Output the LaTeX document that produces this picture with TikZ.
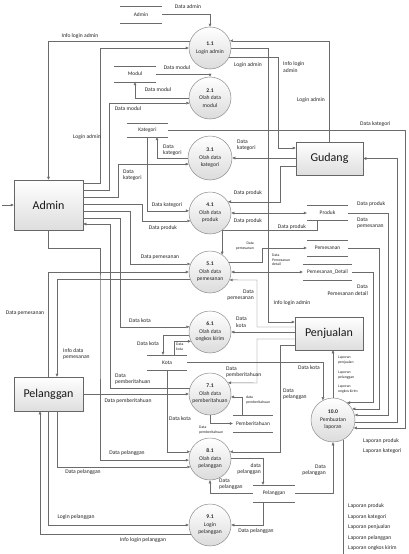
\documentclass[tikz,border=0pt]{standalone}
\usepackage{fontspec}
\setmainfont{Carlito}
\usetikzlibrary{arrows.meta,shadows}
\begin{document}
\begin{tikzpicture}[x=1pt,y=-1pt,
  flow/.style={draw=black!58,line width=0.45pt},
  arr/.style={flow,-{Triangle[length=3pt,width=2.6pt]}},
  barr/.style={flow,{Triangle[length=3pt,width=2.6pt]}-{Triangle[length=3pt,width=2.6pt]}},
  proc/.style={circle,draw=black!45,line width=0.5pt,top color=white,bottom color=black!14,
    inner sep=0pt,minimum size=42pt,align=center,text=black!85,font=\fontsize{5.6}{7.5}\selectfont},
  ent/.style={rectangle,draw=black!60,line width=0.5pt,top color=white,bottom color=black!13,
    inner sep=0pt,text=black!90,font=\fontsize{12}{14}\selectfont,
    drop shadow={shadow xshift=1.2pt,shadow yshift=-1.2pt,opacity=0.35,fill=black!60}},
  storeline/.style={draw=black!58,line width=0.45pt},
  store/.style={rectangle,inner sep=0pt,text=black!85,font=\fontsize{5.4}{6}\selectfont,
    append after command={(\tikzlastnode.north west) edge[storeline] (\tikzlastnode.north east)
      (\tikzlastnode.south west) edge[storeline] (\tikzlastnode.south east)}},
  lab/.style={inner sep=0pt,text=black!85,font=\fontsize{5.6}{6.6}\selectfont,align=center},
  slab/.style={inner sep=0pt,text=black!85,font=\fontsize{3.8}{4.6}\selectfont,align=center},
]
\fill[white] (0,0) rectangle (408,554);
\useasboundingbox (0,0) rectangle (408,554);

% processes
\node[proc] (p1) at (210,48) {\textbf{1.1}\\Login admin};
\node[proc] (p2) at (210,98) {\textbf{2.1}\\Olah data\\modul};
\node[proc,minimum size=44pt] (p3) at (210,158) {\textbf{3.1}\\Olah data\\kategori};
\node[proc] (p4) at (210,213) {\textbf{4.1}\\Olah data\\produk};
\node[proc] (p5) at (210,272) {\textbf{5.1}\\Olah data\\pemesanan};
\node[proc] (p6) at (210,332) {\textbf{6.1}\\Olah data\\ongkos kirim};
\node[proc] (p7) at (210,394) {\textbf{7.1}\\Olah data\\pemberitahuan};
\node[proc] (p8) at (210,459) {\textbf{8.1}\\Olah data\\pelanggan};
\node[proc] (p9) at (210,525) {\textbf{9.1}\\Login\\pelanggan};
\node[proc,minimum size=44pt] (p10) at (333,420) {\textbf{10.0}\\Pembuatan\\laporan};

% entities
\node[ent,minimum width=69pt,minimum height=50pt] (admin) at (48.5,205) {Admin};
\node[ent,minimum width=69pt,minimum height=34pt] (pel) at (48.5,394) {Pelanggan};
\node[ent,minimum width=67pt,minimum height=33pt] (gud) at (329.5,158.5) {Gudang};
\node[ent,minimum width=68pt,minimum height=33pt] (pen) at (329,333.5) {Penjualan};

% data stores
\node[store,minimum width=42pt,minimum height=17pt] (sadm) at (141,14.5) {Admin};
\node[store,minimum width=42pt,minimum height=16pt] (smod) at (135,74) {Modul};
\node[store,minimum width=41pt,minimum height=14pt] (skat) at (147.5,130) {Kategori};
\node[store,minimum width=41pt,minimum height=15pt] (sprod) at (327.5,213) {Produk};
\node[store,minimum width=41pt,minimum height=16pt] (spem) at (327.5,248) {Pemesanan};
\node[store,minimum width=49pt,minimum height=16pt] (sdet) at (327.5,272) {Pemesanan\_Detail};
\node[store,minimum width=40pt,minimum height=15pt] (skota) at (167,362.5) {Kota};
\node[store,minimum width=40pt,minimum height=17pt] (spb) at (253,423.5) {Pemberitahuan};
\node[store,minimum width=42pt,minimum height=17pt] (spl) at (274,493.5) {Pelanggan};

% flows: top
\draw[arr] (sadm.east) -| (p1.north);
\draw[arr] (p1.160) -| (admin.north);
\draw[arr] (admin.east |- 0,183) -| (100,48) -- (p1.west);
\draw[arr] (smod.east) -| (p2.north);
\draw[arr] (p2.west) -| (smod.south);
\draw[arr] (admin.east |- 0,190) -- (109,190) |- (p2.194);
\draw[arr] (skat.east) -| (p10.-21 -| 405,0) -- (p10.-21);
\draw[arr] (p3.west) -| (skat.south -| 157,0);
\draw[arr] (admin.east |- 0,197) -- (118,197) |- (p3.196);
\draw[arr] (skat.south) |- (p4.174);
\draw[arr] (admin.east |- 0,204) -- (142,204) |- (p4.202);
\draw[arr] (admin.east |- 0,211) -- (130,211) |- (p5.158);
\draw[arr] (admin.east |- 0,218) -- (120,218) |- (p6.166);
\draw[arr] (p7.164) -| (110,224) -- (admin.east |- 0,224);
\draw[arr] (admin.south) -- (48.5,248) -| (100,300) |- (p8.183);
\draw[arr] (admin.west -| 2,0) -- (admin.west);
\draw[arr] (pel.north) |- (p5.west);
\draw[arr] (p5.200) -| (pel.north -| 57,0);
% gudang / penjualan side
\draw[arr] (gud.north) |- (p1.20);
\draw[arr] (p1.-25) -| (278,148) -- (gud.west |- 0,148);
\draw[arr] (p1.east) -| (268,322) -- (pen.west |- 0,322);
\draw[arr] (p3.east -| gud.west) -- (p3.east);
\draw[arr] (gud.west |- 0,166) -- (280,166) |- (p4.32);
\draw[barr] (p4.east) -- (sprod.west);
\draw[arr] (sprod.south -| 317,0) -- (317,230) -| (p5.55);
\draw[arr] (p5.28) -| (262,248) -- (spem.west);
\draw[barr] (p5.east) -- (sdet.west);
\draw[arr] (pen.west |- 0,327) -| (257,280) -- (p5.-22);
\draw[arr] (p6.east -| pen.west) -- (p6.east);
\draw[arr] (pen.west |- 0,339) -| (257,383) -- (p7.32);
\draw[arr] (pen.west |- 0,345) -- (280,345) |- (p8.20);
% kota
\draw[arr] (p6.188) -| (skota.north -| 163,0);
\draw[arr] (skota.north -| 174,0) |- (p6.206);
\draw[arr] (skota.east) -| (p10.117);
\draw[arr] (skota.south) |- (p8.160);
% pelanggan
\draw[arr] (pel.east) -- (p7.west);
\draw[arr] (p7.south) |- (spb.west);
\draw[arr] (spb.north -| 242,0) |- (p7.-8);
\draw[arr] (p8.3) -| (spl.north -| 263,0);
\draw[arr] (spl.west) -| (p8.south);
\draw[arr] (spl.east) -| (p10.south);
\draw[arr] (spl.south -| 263,0) |- (p9.east);
\draw[arr] (pel.south -| 57,0) |- (p8.202);
\draw[arr] (pel.south) |- (p9.west);
\draw[arr] (p9.205) -| (pel.south -| 40,0);
% laporan
\draw[arr] (p10.north) -- (pen.south -| p10.north);
\draw[flow] (p10.-63) -- (p10.-63 |- 0,554);
\draw[arr] (p10.-5) -| (gud.east -| 397,0) -- (gud.east);
\draw[arr] (sdet.east) -| (p10.51 -| 373,0) -- (p10.51);
\draw[arr] (spem.east) -| (p10.30 -| 379,0) -- (p10.30);
\draw[arr] (sprod.east) -| (p10.13 -| 388,0) -- (p10.13);

% labels
\node[lab] (l1) at (188,7) {Data admin};
\node[lab] (l2) at (80,36) {Info login admin};
\node[lab] (l3) at (87,137) {Login admin};
\node[lab] (l4) at (177,68) {Data modul};
\node[lab] (l5) at (158,90) {Data modul};
\node[lab] (l6) at (128,109) {Data modul};
\node[lab,anchor=west] (l7) at (360,124) {Data kategori};
\node[lab,anchor=west,align=left] (l8) at (163,150) {Data\\kategori};
\node[lab,anchor=west,align=left] (l9) at (123,175) {Data\\kategori};
\node[lab] (l10) at (167,205) {Data kategori};
\node[lab] (l11) at (163,228) {Data produk};
\node[lab] (l12) at (160,257) {Data pemesanan};
\node[lab] (l13) at (140,321) {Data kota};
\node[lab] (l14) at (148,344) {Data kota};
\node[slab,anchor=west,align=left] (l15) at (176,347) {Data\\kota};
\node[lab,anchor=west,align=left] (l16) at (115,379) {Data\\pemberitahuan};
\node[lab] (l17) at (128,401) {Data pemberitahuan};
\node[lab] (l18) at (180,419) {Data kota};
\node[lab] (l19) at (127,453) {Data pelanggan};
\node[lab] (l20) at (83,472) {Data pelanggan};
\node[lab] (l21) at (76,517) {Login pelanggan};
\node[lab] (l22) at (143,540) {Info login pelanggan};
\node[lab] (l23) at (25,313) {Data pemesanan};
\node[lab,anchor=west,align=left] (l24) at (63,354) {Info data\\pemesanan};
\node[lab] (l25) at (248,65) {Login admin};
\node[lab,anchor=west,align=left] (l26) at (283,67) {Info login\\admin};
\node[lab] (l27) at (311,100) {Login admin};
\node[lab,anchor=west,align=left] (l28) at (237,145) {Data\\kategori};
\node[lab] (l29) at (248,193) {Data produk};
\node[lab] (l30) at (248,221) {Data produk};
\node[lab] (l31) at (292,227) {Data produk};
\node[slab,anchor=east,align=right] (l32) at (254,246) {Data\\pemesanan};
\node[slab,anchor=north west,align=left] (l33) at (272,254) {Data\\Pemesanan\\detail};
\node[lab,anchor=east,align=right] (l34) at (254,295) {Data\\pemesanan};
\node[lab] (l35) at (292,303) {Info login admin};
\node[lab,anchor=west,align=left] (l36) at (236,322) {Data\\kota};
\node[lab,anchor=west,align=left] (l37) at (226,372) {Data\\pemberitahuan};
\node[lab,anchor=west,align=left] (l38) at (283,394) {Data\\pelanggan};
\node[lab] (l39) at (309,368) {Data kota};
\node[slab,anchor=west,align=left] (l40) at (246,400) {data\\pemberitahuan};
\node[slab,anchor=west,align=left] (l41) at (199,430) {Data\\pemberitahuan};
\node[lab,anchor=east,align=right] (l42) at (261,469) {data\\pelanggan};
\node[lab,anchor=west,align=left] (l43) at (219,484) {Data\\pelanggan};
\node[lab,anchor=east,align=right] (l44) at (326,470) {Data\\pelanggan};
\node[lab] (l45) at (256,531) {Data pelanggan};
\node[slab,anchor=west,align=left] (l46) at (338,360) {Laporan\\penjualan};
\node[slab,anchor=west,align=left] (l47) at (338,375) {Laporan\\pelanggan};
\node[slab,anchor=west,align=left] (l48) at (338,389) {Laporan\\ongkos kirim};
\node[lab,anchor=east,align=right] (l49) at (368,290) {Data\\Pemesanan detail};
\node[lab,anchor=west,align=left] (l50) at (357,223) {Data\\pemesanan};
\node[lab,anchor=west] (l51) at (357,204) {Data produk};
\node[lab,anchor=west] (l52) at (363,441) {Laporan produk};
\node[lab,anchor=west] (l53) at (363,451) {Laporan kategori};
\node[lab,anchor=west] (l54) at (348,506) {Laporan produk};
\node[lab,anchor=west] (l55) at (348,517) {Laporan kategori};
\node[lab,anchor=west] (l56) at (348,527) {Laporan penjualan};
\node[lab,anchor=west] (l57) at (348,538) {Laporan pelanggan};
\node[lab,anchor=west] (l58) at (348,548) {Laporan ongkos kirim};
\end{tikzpicture}
\end{document}
